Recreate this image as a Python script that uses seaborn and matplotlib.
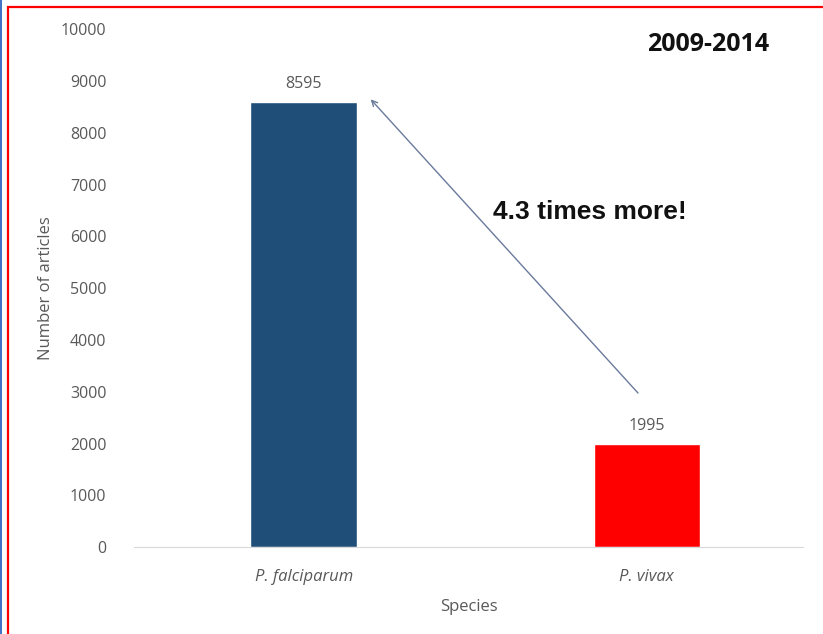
import pandas as pd
import matplotlib
matplotlib.use("Agg")
import matplotlib.pyplot as plt
from matplotlib.patches import Rectangle
import seaborn as sns

species = ["P. falciparum", "P. vivax"]
counts = [8595, 1995]
bar_colors = ["#1F4E79", "#FF0000"]
period = "2009-2014"
yticks = list(range(0, 10001, 1000))

df = pd.DataFrame({"Species": species, "Articles": counts})

sns.set_style("white")
plt.rcParams["font.family"] = ["Open Sans", "DejaVu Sans"]
grey = "#595959"

fig = plt.figure(figsize=(8.23, 6.34), dpi=100)
ax = fig.add_axes([0.163, 0.137, 0.813, 0.817])

sns.barplot(data=df, x="Species", y="Articles", hue="Species",
            palette=bar_colors, width=0.31, saturation=1, ax=ax, legend=False)

ax.set_ylim(0, 10000)
ax.set_xlim(-0.494, 1.456)
ax.set_yticks(yticks)
ax.set_yticklabels([str(t) for t in yticks], color=grey, fontsize=11.5)
ax.set_xticks(range(len(species)))
ax.set_xticklabels(species, color=grey, fontsize=12, style="italic")
ax.tick_params(axis="x", length=0, pad=16)
ax.tick_params(axis="y", length=0, pad=20)
ax.set_ylabel("Number of articles", color=grey, fontsize=12, labelpad=5)
ax.set_xlabel("Species", color=grey, fontsize=12, labelpad=10)

for s in ["top", "right", "left"]:
    ax.spines[s].set_visible(False)
ax.spines["bottom"].set_color("#D9D9D9")

for cont in ax.containers:
    ax.bar_label(cont, fmt="%d", color=grey, fontsize=11.5, padding=7)

# arrow from small bar up to big bar
ax.annotate("", xy=(0.19, counts[0] + 90), xytext=(0.98, counts[1] + 940),
            arrowprops=dict(arrowstyle="->", color="#6A7A9C", lw=1.0))
ax.text(0.835, 6470, f"{counts[0] / counts[1]:.1f} times more!",
        ha="center", va="center", fontsize=19, fontweight="bold",
        family=["Liberation Sans", "DejaVu Sans"], color="#111111")
ax.text(1.18, 9700, period, ha="center", va="center", fontsize=18,
        fontweight="bold", color="#111111")

# frame around the picture
fig.patches.append(Rectangle((8 / 823, -0.05), 1.1, 0.05 + 1 - 7 / 634,
                             transform=fig.transFigure, fill=False,
                             edgecolor="red", lw=1.6, clip_on=False))
fig.patches.append(Rectangle((0, 0), 1.5 / 823, 1, transform=fig.transFigure,
                             facecolor="#4472C4", edgecolor="none"))

fig.savefig("out.png", dpi=100, facecolor="w")
